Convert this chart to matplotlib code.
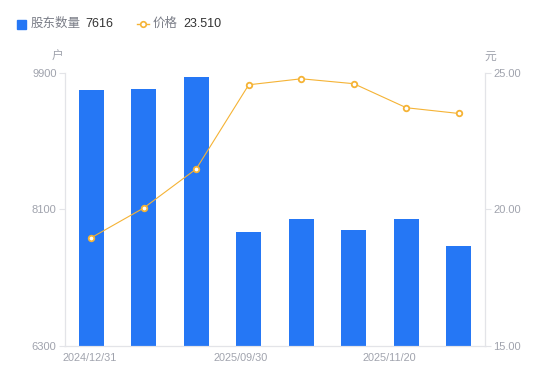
import matplotlib
matplotlib.use('Agg')
import numpy as np
import matplotlib.pyplot as plt

plt.rcParams['font.family'] = ['Liberation Sans', 'Noto Sans CJK SC', 'DejaVu Sans']

# Data
holders = [9676, 9680, 9847, 7803, 7974, 7829, 7974, 7616]
prices = [18.96, 20.05, 21.48, 24.56, 24.78, 24.60, 23.72, 23.51]
date_labels = ['2024/12/31', '2025/09/30', '2025/11/20']
date_pos = [-0.54, 2.32, 5.16]
left_ticks = [6300, 8100, 9900]
right_ticks = [15.00, 20.00, 25.00]

BLUE = '#2577F5'
ORANGE = '#F5B335'
GRAY = '#A0A3AD'
SPINE = '#E3E4E8'

fig = plt.figure(figsize=(5.5, 3.81), dpi=100)
ax = fig.add_axes([0.118, 0.092, 0.764, 0.717])
x = np.arange(len(holders))

ax.bar(x, holders, width=0.48, color=BLUE, zorder=2)
ax.set_xlim(-0.5, len(holders) - 0.5)
ax.set_ylim(left_ticks[0], left_ticks[-1])
ax.set_yticks(left_ticks)
ax.set_yticklabels([str(v) for v in left_ticks])
ax.tick_params(axis='y', colors=SPINE, labelcolor=GRAY, labelsize=8, length=4, width=0.8, pad=2)
ax.set_xticks([])
ax.spines['top'].set_visible(False)
for s in ['left', 'right', 'bottom']:
    ax.spines[s].set_color(SPINE)
    ax.spines[s].set_linewidth(0.8)

for lbl, p in zip(date_labels, date_pos):
    ax.text(p, -0.025, lbl, transform=ax.get_xaxis_transform(), ha='left', va='top',
            fontsize=7.8, color=GRAY)

ax2 = ax.twinx()
ax2.plot(x, prices, color=ORANGE, linewidth=0.8, marker='o', markersize=4,
         markerfacecolor='white', markeredgecolor=ORANGE, markeredgewidth=1.3, zorder=3)
ax2.set_ylim(right_ticks[0], right_ticks[-1])
ax2.set_yticks(right_ticks)
ax2.set_yticklabels([f'{v:.2f}' for v in right_ticks])
ax2.tick_params(axis='y', colors=SPINE, labelcolor=GRAY, labelsize=8, length=4, width=0.8, pad=2)
ax2.spines['top'].set_visible(False)
for s in ['left', 'right', 'bottom']:
    ax2.spines[s].set_color(SPINE)
    ax2.spines[s].set_linewidth(0.8)

# Unit labels
fig.text(58 / 550, 1 - 57 / 381, '户', ha='center', va='center', fontsize=8.5, color=GRAY)
fig.text(490 / 550, 1 - 57 / 381, '元', ha='center', va='center', fontsize=8.5, color=GRAY)

# Legend row
ly = 1 - 24 / 381
fig.patches.append(plt.Rectangle((17 / 550, ly - 4.5 / 381), 9 / 550, 9 / 381,
                                 transform=fig.transFigure, color=BLUE))
fig.text(31 / 550, ly, '股东数量', ha='left', va='center', fontsize=9, color='#7A7D87')
fig.text(85 / 550, ly, '7616', ha='left', va='center', fontsize=9, color='#333333')
fig.lines.append(plt.Line2D([137 / 550, 149 / 550], [ly, ly], transform=fig.transFigure,
                            color=ORANGE, linewidth=1))
fig.lines.append(plt.Line2D([143 / 550], [ly], transform=fig.transFigure, linestyle='none',
                            marker='o', markersize=4, markerfacecolor='white',
                            markeredgecolor=ORANGE, markeredgewidth=1.2))
fig.text(153 / 550, ly, '价格', ha='left', va='center', fontsize=9, color='#7A7D87')
fig.text(183 / 550, ly, '23.510', ha='left', va='center', fontsize=9, color='#333333')

fig.savefig('out.png', dpi=100)
